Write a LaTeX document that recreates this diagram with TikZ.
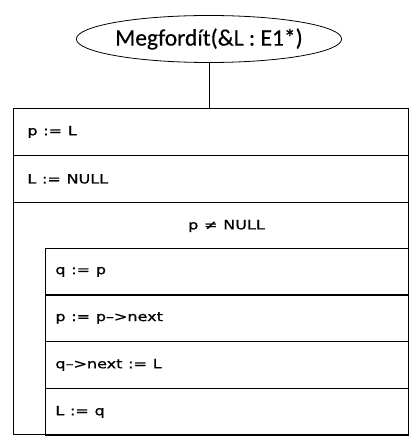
\documentclass[tikz,border=0pt]{standalone}
\usepackage{fontspec}
\setmainfont{DejaVu Sans}
\newfontfamily\headfont[FakeBold=0.4]{Carlito}
\newfontfamily\widefont[FakeStretch=1.25,FakeBold=1]{DejaVu Sans}
\usetikzlibrary{math,shapes.geometric}

\tikzset{
  head/.style={ellipse, draw, line width=0.8pt, minimum width=251, minimum height=47,
    inner sep=0pt, font=\headfont\fontsize{23.5}{26}\selectfont},
  stmt/.style={draw, line width=0.8pt, anchor=north west, minimum height=47,
    inner xsep=14, inner ysep=0pt, align=left, font=\widefont\fontsize{12.8}{16}\selectfont,
    execute at begin node={\spaceskip=0.45em}},
  cond/.style={font=\widefont\fontsize{12.8}{16}\selectfont,
    execute at begin node={\spaceskip=0.45em}},
}

\begin{document}
\begin{tikzpicture}[x=1pt,y=-1pt]
  \tikzmath{%
    \l = 13; \r = 408; \il = 45;
    \w = \r - \l; \iw = \r - \il;
  }
  \useasboundingbox (0,0) rectangle (418,446);

  \node[head] (head) at (209,39) {Megfordít(\&L : E1*)};

  % outer sequence
  \node[stmt, minimum width=\w, text width=\w-28] (init) at (\l,108) {p := L};
  \node[stmt, minimum width=\w, text width=\w-28] (nul) at (\l,155) {L := NULL};
  \draw[line width=0.8pt] (\l,202) rectangle (\r,434);
  \node[cond] (loop) at ({(\il+\r)/2},226) {p ≠ NULL};

  % loop body
  \node[stmt, minimum width=\iw, text width=\iw-20, inner xsep=10] (s1) at (\il,248) {q := p};
  \node[stmt, minimum width=\iw, text width=\iw-20, inner xsep=10] (s2) at (\il,294) {p := p–>next};
  \node[stmt, minimum width=\iw, text width=\iw-20, inner xsep=10] (s3) at (\il,341) {q–>next := L};
  \node[stmt, minimum width=\iw, text width=\iw-20, inner xsep=10] (s4) at (\il,388) {L := q};

  \draw[line width=0.8pt] (head.south) -- (head.south |- init.north);
\end{tikzpicture}
\end{document}
